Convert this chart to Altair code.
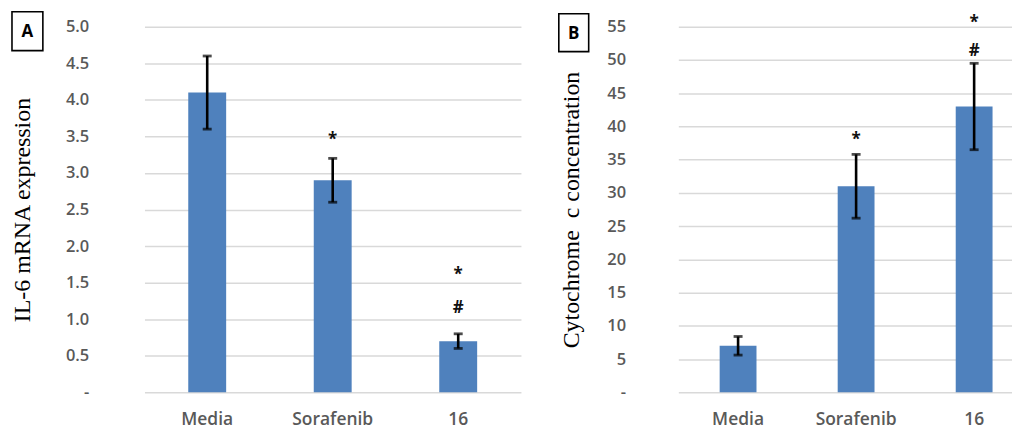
import altair as alt
import pandas as pd

categories = ["Media", "Sorafenib", "16"]

il6_mean = [4.1, 2.9, 0.7]
il6_err = [0.5, 0.3, 0.1]
il6_marks = [("*", "Sorafenib", 3.45), ("#", "16", 1.15), ("*", "16", 1.6)]

cyt_mean = [7.0, 31.0, 43.0]
cyt_err = [1.4, 4.8, 6.5]
cyt_marks = [("*", "Sorafenib", 37.9), ("#", "16", 51.4), ("*", "16", 55.5)]

BAR = "#4f81bd"
GRID = "#d9d9d9"
LABEL = "#595959"
SANS = "Open Sans"
SERIF = "Liberation Serif"


def panel(means, errs, marks, ymax, ystep, fmt, ytitle, letter, width, height,
          pinner, pouter, align, box, lpad, tpad):
    df = pd.DataFrame({
        "cat": categories,
        "mean": means,
        "lo": [m - e for m, e in zip(means, errs)],
        "hi": [m + e for m, e in zip(means, errs)],
    })
    mk = pd.DataFrame(marks, columns=["sym", "cat", "pos"])
    ticks = [round(i * ystep, 2) for i in range(int(round(ymax / ystep)) + 1)]
    xs = alt.X("cat:N", sort=categories,
               scale=alt.Scale(paddingInner=pinner, paddingOuter=pouter, align=align),
               axis=alt.Axis(title=None, labelAngle=0, domain=False, ticks=False,
                             labelPadding=18, labelFont=SANS, labelFontSize=17.5,
                             labelFontWeight=600, labelColor=LABEL))
    ys = alt.Y("mean:Q", scale=alt.Scale(domain=[0, ymax], nice=False),
               axis=alt.Axis(title=ytitle, values=ticks, tickCount=len(ticks),
                             labelOverlap=False, domain=False, ticks=False,
                             grid=True, gridColor=GRID, gridWidth=1.5,
                             labelExpr=f"datum.value == 0 ? '-' : format(datum.value, '{fmt}')",
                             labelPadding=lpad, labelFont=SANS, labelFontSize=16.5,
                             labelFontWeight=600, labelColor=LABEL,
                             titleFont=SERIF, titleFontSize=24, titleFontWeight="normal",
                             titleColor="#000000", titlePadding=tpad))
    base = alt.Chart(df)
    bars = base.mark_bar(color=BAR).encode(x=xs, y=ys)
    rule = base.mark_rule(color="black", strokeWidth=2.6).encode(
        x=alt.X("cat:N", sort=categories), y="lo:Q", y2="hi:Q")
    cap_lo = base.mark_tick(color="black", orient="horizontal", size=9, thickness=2.8).encode(
        x=alt.X("cat:N", sort=categories), y="lo:Q")
    cap_hi = base.mark_tick(color="black", orient="horizontal", size=9, thickness=2.8).encode(
        x=alt.X("cat:N", sort=categories), y="hi:Q")
    sym = alt.Chart(mk).mark_text(font=SANS, fontWeight="bold", fontSize=17,
                                  color="#111111", baseline="middle").encode(
        x=alt.X("cat:N", sort=categories), y="pos:Q", text="sym:N")
    bx0, bx1, by0, by1 = box
    frame = alt.Chart(pd.DataFrame({"t": [letter]})).mark_rect(
        fill="white", stroke="black", strokeWidth=1.6).encode(
        x=alt.value(bx0), x2=alt.value(bx1), y=alt.value(by0), y2=alt.value(by1))
    lab = alt.Chart(pd.DataFrame({"t": [letter]})).mark_text(
        font=SANS, fontWeight="bold", fontSize=17, color="black", baseline="middle").encode(
        x=alt.value((bx0 + bx1) / 2), y=alt.value((by0 + by1) / 2 + 1), text="t:N")
    return alt.layer(bars, rule, cap_lo, cap_hi, sym, frame, lab).properties(
        width=width, height=height)


pa = panel(il6_mean, il6_err, il6_marks, 5.0, 0.5, ".1f", "IL-6 mRNA expression", "A",
           378, 367, 0.698, 0.349, 0.5, (-133, -102, -15, 24), 56, 31)
pb = panel(cyt_mean, cyt_err, cyt_marks, 55, 5, "d", "Cytochrome\u00a0\u00a0c concentration", "B",
           335, 367, 0.688, 0.2575, 0.68, (-120, -90, -13, 25), 53, 23)

chart = alt.hconcat(pa, pb, spacing=37).resolve_scale(y="independent").configure(
    background="white", padding={"left": 2, "top": 2, "right": 0, "bottom": 0}
).configure_view(strokeWidth=0, stroke="transparent")

chart.save("out.html", embed_options={"renderer": "svg", "actions": False})
